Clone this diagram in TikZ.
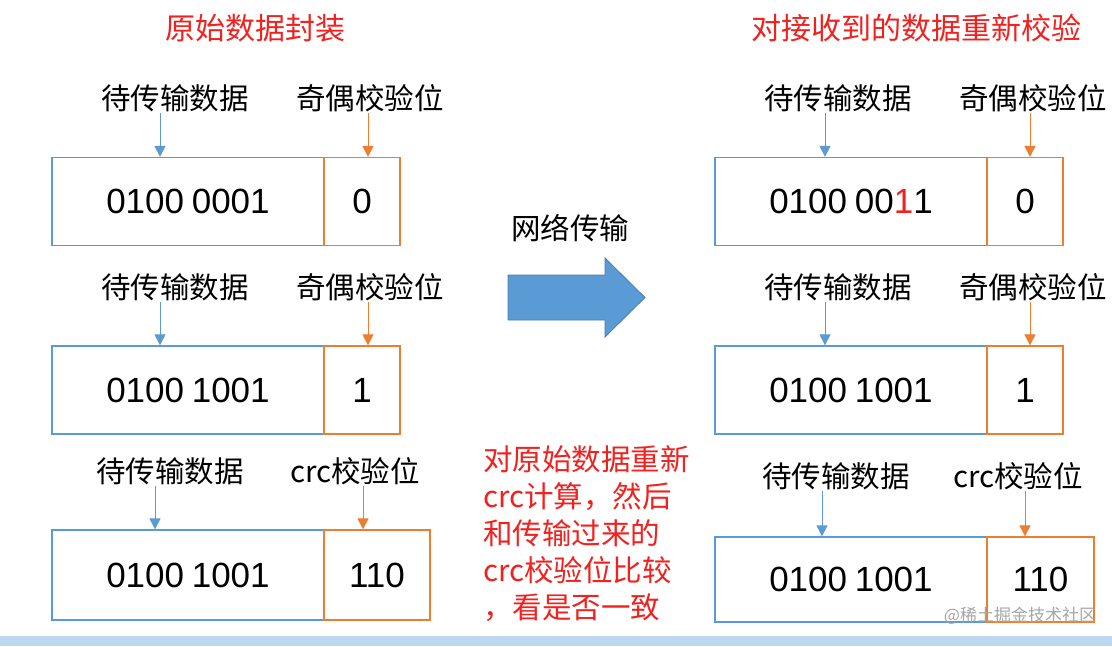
\documentclass[tikz,border=0pt]{standalone}
\usepackage{fontspec}
\setmainfont{Liberation Sans}
\newfontfamily\cjk{Noto Sans CJK SC}
\usetikzlibrary{arrows.meta}
\definecolor{bl}{HTML}{5B9BD5}
\definecolor{og}{HTML}{ED7D31}
\definecolor{rd}{HTML}{F0211E}
\tikzset{
 lab/.style={font=\cjk\fontsize{29.5}{32}\selectfont, inner sep=0pt},
 ttl/.style={lab, text=rd, font=\cjk\fontsize{30}{32}\selectfont},
 dbox/.style={draw=bl, line width=1.3pt, minimum height=88pt, inner sep=0pt, font=\fontsize{35}{38}\selectfont},
 pbox/.style={draw=og, line width=1.3pt, minimum height=88pt, inner sep=0pt, font=\fontsize{35}{38}\selectfont},
 barr/.style={bl, line width=1pt, -{Triangle[length=11pt,width=11pt]}},
 oarr/.style={og, line width=1pt, -{Triangle[length=11pt,width=11pt]}},
}
\begin{document}
\begin{tikzpicture}[x=1pt,y=-1pt]
\useasboundingbox (0,0) rectangle (1112,646);
\fill[white] (0,0) rectangle (1112,646);
\fill[bl!40] (0,636) rectangle (1112,646);
% titles
\node[ttl] (t1) at (255,28) {原始数据封装};
\node[ttl] (t2) at (916,28) {对接收到的数据重新校验};
% left row 1
\node[lab] (la1) at (175,98) {待传输数据};
\node[lab] (lb1) at (370,98) {奇偶校验位};
\node[dbox, minimum width=272pt] (d1) at (188,201.5) {0100\hspace{-2pt} 0001};
\node[pbox, minimum width=76pt] (p1) at (362,201.5) {0};
\coordinate (ta1) at (160,113); \coordinate (tb1) at (368,113);
\draw[barr] (ta1) -- (ta1 |- d1.north);
\draw[oarr] (tb1) -- (tb1 |- p1.north);
% left row 2
\node[lab] (la2) at (175,287) {待传输数据};
\node[lab] (lb2) at (370,287) {奇偶校验位};
\node[dbox, minimum width=272pt] (d2) at (188,390) {0100\hspace{-2pt} 1001};
\node[pbox, minimum width=76pt] (p2) at (362,390) {1};
\coordinate (ta2) at (160,302); \coordinate (tb2) at (368,302);
\draw[barr] (ta2) -- (ta2 |- d2.north);
\draw[oarr] (tb2) -- (tb2 |- p2.north);
% left row 3
\node[lab] (la3) at (170,471) {待传输数据};
\node[lab] (lb3) at (355,471) {crc校验位};
\node[dbox, minimum width=272pt, minimum height=90pt] (d3) at (188,575) {0100\hspace{-2pt} 1001};
\node[pbox, minimum width=106pt, minimum height=90pt] (p3) at (377,575) {110};
\coordinate (ta3) at (155,486); \coordinate (tb3) at (363,486);
\draw[barr] (ta3) -- (ta3 |- d3.north);
\draw[oarr] (tb3) -- (tb3 |- p3.north);
% right row 1
\node[lab] (ra1) at (838,98) {待传输数据};
\node[lab] (rb1) at (1033,98) {奇偶校验位};
\node[dbox, minimum width=272pt] (e1) at (851,201.5) {0100\hspace{-2pt} 00\textcolor{rd}{1}1};
\node[pbox, minimum width=76pt] (q1) at (1025,201.5) {0};
\coordinate (ua1) at (825,113); \coordinate (ub1) at (1030,113);
\draw[barr] (ua1) -- (ua1 |- e1.north);
\draw[oarr] (ub1) -- (ub1 |- q1.north);
% right row 2
\node[lab] (ra2) at (838,287) {待传输数据};
\node[lab] (rb2) at (1033,287) {奇偶校验位};
\node[dbox, minimum width=272pt] (e2) at (851,390) {0100\hspace{-2pt} 1001};
\node[pbox, minimum width=76pt] (q2) at (1025,390) {1};
\coordinate (ua2) at (825,302); \coordinate (ub2) at (1030,302);
\draw[barr] (ua2) -- (ua2 |- e2.north);
\draw[oarr] (ub2) -- (ub2 |- q2.north);
% right row 3
\node[lab] (ra3) at (836,476) {待传输数据};
\node[lab] (rb3) at (1018,476) {crc校验位};
\node[dbox, minimum width=272pt, minimum height=85pt] (e3) at (851,579.5) {0100\hspace{-2pt} 1001};
\node[pbox, minimum width=107pt, minimum height=85pt] (q3) at (1040.5,579.5) {110};
\coordinate (ua3) at (822,491); \coordinate (ub3) at (1025,491);
\draw[barr] (ua3) -- (ua3 |- e3.north);
\draw[oarr] (ub3) -- (ub3 |- q3.north);
% transfer arrow
\node[lab] (net) at (570,228) {网络传输};
\draw[fill=bl, draw=bl!80!black, line width=0.8pt] (508,275) -- (605,275) -- (605,258) -- (645,297.5) -- (605,337) -- (605,320) -- (508,320) -- cycle;
% red note
\node[lab, text=rd, align=left, anchor=north west, font=\cjk\fontsize{29.5}{37}\selectfont] (note) at (483,445) {对原始数据重新\\crc计算，然后\\和传输过来的\\crc校验位比较\\，看是否一致};
% watermark
\node[lab, text=black!35, font=\cjk\fontsize{17}{20}\selectfont] (wm) at (1020,616) {@稀土掘金技术社区};
\end{tikzpicture}
\end{document}
